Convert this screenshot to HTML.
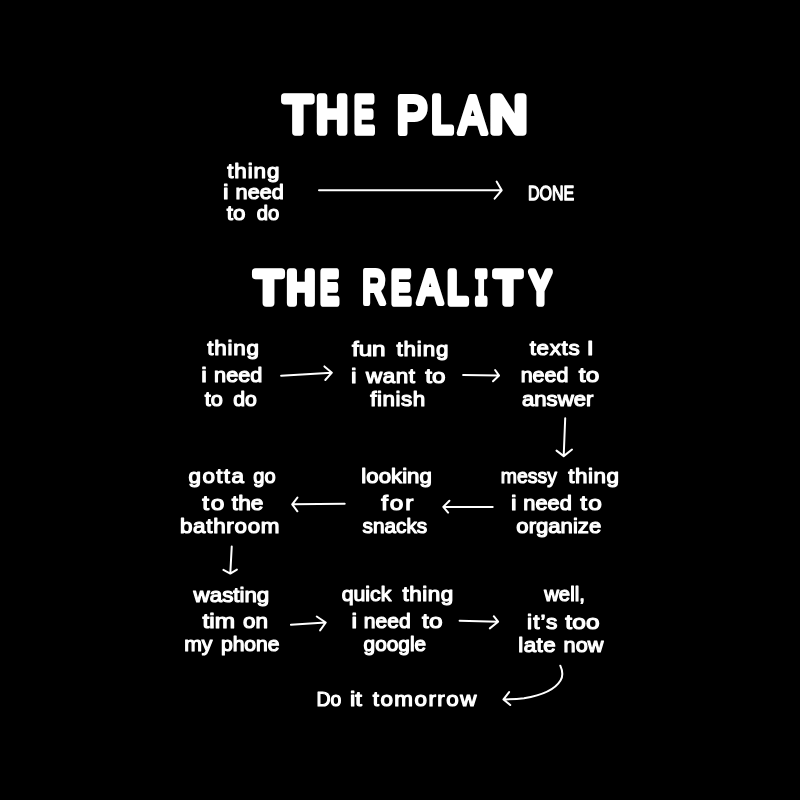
<!DOCTYPE html>
<html lang="en"><head><meta charset="utf-8"><title>The Plan vs The Reality</title>
<style>
html,body{margin:0;padding:0;background:#000;}
body{width:800px;height:800px;overflow:hidden;}
svg{display:block;will-change:transform;}
text{font-family:"Liberation Sans",sans-serif;fill:#fff;stroke:#fff;stroke-linejoin:round;stroke-linecap:round;}
.s{font-size:20px;font-weight:400;stroke-width:1.15px;}
.d{font-size:20.6px;font-weight:400;stroke-width:1.3px;}
.t{font-weight:400;stroke-width:7.5px;}
.m{font-family:"Liberation Mono",monospace;}
.a{fill:none;stroke:#fff;stroke-width:2;stroke-linecap:round;stroke-linejoin:round;}
</style></head><body>
<svg width="800" height="800" viewBox="0 0 800 800">
<rect width="800" height="800" fill="#000"/>
<text class="t" aria-label="THE PLAN"><tspan x="283.39" y="132.45" textLength="28.74" lengthAdjust="spacingAndGlyphs" font-size="50.44">T</tspan><tspan x="316.61" y="132.45" textLength="31.16" lengthAdjust="spacingAndGlyphs" font-size="50.44">H</tspan><tspan x="354.31" y="132.45" textLength="19.81" lengthAdjust="spacingAndGlyphs" font-size="50.44">E</tspan> <tspan x="396.72" y="133.20" stroke-width="6.0" textLength="30.70" lengthAdjust="spacingAndGlyphs" font-size="52.62">P</tspan><tspan x="431.68" y="132.45" textLength="20.81" lengthAdjust="spacingAndGlyphs" font-size="50.44">L</tspan><tspan x="458.92" y="133.20" stroke-width="6.0" textLength="27.16" lengthAdjust="spacingAndGlyphs" font-size="52.62">A</tspan><tspan x="490.06" y="132.45" textLength="36.85" lengthAdjust="spacingAndGlyphs" font-size="50.44">N</tspan></text>
<text class="t" aria-label="THE REALITY"><tspan x="254.74" y="302.55" textLength="27.55" lengthAdjust="spacingAndGlyphs" font-size="44.48">T</tspan><tspan x="287.09" y="302.55" textLength="27.80" lengthAdjust="spacingAndGlyphs" font-size="44.48">H</tspan><tspan x="320.56" y="302.55" textLength="17.84" lengthAdjust="spacingAndGlyphs" font-size="44.48">E</tspan> <tspan x="362.38" y="303.30" stroke-width="6.0" textLength="23.11" lengthAdjust="spacingAndGlyphs" font-size="46.66">R</tspan><tspan x="391.40" y="302.55" textLength="19.07" lengthAdjust="spacingAndGlyphs" font-size="44.48">E</tspan><tspan x="417.93" y="303.30" stroke-width="6.0" textLength="24.14" lengthAdjust="spacingAndGlyphs" font-size="46.66">A</tspan><tspan x="447.87" y="302.55" textLength="19.55" lengthAdjust="spacingAndGlyphs" font-size="44.48">L</tspan><tspan class="m" x="474.54" y="302.55" textLength="13.44" lengthAdjust="spacingAndGlyphs" font-size="46.46">I</tspan><tspan x="494.78" y="302.55" textLength="26.47" lengthAdjust="spacingAndGlyphs" font-size="44.48">T</tspan><tspan x="530.06" y="302.55" textLength="20.88" lengthAdjust="spacingAndGlyphs" font-size="44.48">Y</tspan></text>
<text class="d" x="527.94" y="199.65" textLength="46.30" lengthAdjust="spacingAndGlyphs">DONE</text>
<text class="s" y="177.73"><tspan x="227.24" letter-spacing="0.79" textLength="53.02" lengthAdjust="spacingAndGlyphs">thing</tspan></text>
<text class="s" y="198.62"><tspan x="223.03" textLength="5.55" lengthAdjust="spacingAndGlyphs">i</tspan> <tspan x="235.64" textLength="48.18" lengthAdjust="spacingAndGlyphs">need</tspan></text>
<text class="s" y="219.62"><tspan x="226.74" textLength="18.63" lengthAdjust="spacingAndGlyphs">to</tspan> <tspan x="256.72" textLength="22.55" lengthAdjust="spacingAndGlyphs">do</tspan></text>
<text class="s" y="354.73"><tspan x="207.24" letter-spacing="0.68" textLength="52.40" lengthAdjust="spacingAndGlyphs">thing</tspan></text>
<text class="s" y="381.62"><tspan x="201.23" textLength="5.55" lengthAdjust="spacingAndGlyphs">i</tspan> <tspan x="214.14" textLength="48.18" lengthAdjust="spacingAndGlyphs">need</tspan></text>
<text class="s" y="405.93"><tspan x="204.75" textLength="18.09" lengthAdjust="spacingAndGlyphs">to</tspan> <tspan x="233.18" textLength="23.63" lengthAdjust="spacingAndGlyphs">do</tspan></text>
<text class="s" y="355.62"><tspan x="351.93" textLength="33.67" lengthAdjust="spacingAndGlyphs">fun</tspan> <tspan x="396.54" letter-spacing="0.73" textLength="52.65" lengthAdjust="spacingAndGlyphs">thing</tspan></text>
<text class="s" y="382.62"><tspan x="351.03" textLength="5.55" lengthAdjust="spacingAndGlyphs">i</tspan> <tspan x="366.11" letter-spacing="0.47" textLength="49.40" lengthAdjust="spacingAndGlyphs">want</tspan> <tspan x="425.21" textLength="20.24" lengthAdjust="spacingAndGlyphs">to</tspan></text>
<text class="s" y="406.12"><tspan x="370.26" letter-spacing="0.47" textLength="55.45" lengthAdjust="spacingAndGlyphs">finish</tspan></text>
<text class="s" y="355.23"><tspan x="529.74" letter-spacing="0.58" textLength="50.55" lengthAdjust="spacingAndGlyphs">texts</tspan> <tspan x="586.68" textLength="6.95" lengthAdjust="spacingAndGlyphs">I</tspan></text>
<text class="s" y="381.73"><tspan x="520.65" textLength="47.76" lengthAdjust="spacingAndGlyphs">need</tspan> <tspan x="578.71" letter-spacing="0.16" textLength="20.74" lengthAdjust="spacingAndGlyphs">to</tspan></text>
<text class="s" y="405.62"><tspan x="522.04" textLength="71.26" lengthAdjust="spacingAndGlyphs">answer</tspan></text>
<text class="s" y="483.03"><tspan x="500.78" textLength="56.18" lengthAdjust="spacingAndGlyphs">messy</tspan> <tspan x="568.24" letter-spacing="0.46" textLength="51.15" lengthAdjust="spacingAndGlyphs">thing</tspan></text>
<text class="s" y="509.93"><tspan x="511.03" textLength="5.55" lengthAdjust="spacingAndGlyphs">i</tspan> <tspan x="523.33" textLength="48.50" lengthAdjust="spacingAndGlyphs">need</tspan> <tspan x="580.21" letter-spacing="1.06" textLength="22.94" lengthAdjust="spacingAndGlyphs">to</tspan></text>
<text class="s" y="532.92"><tspan x="516.35" textLength="84.86" lengthAdjust="spacingAndGlyphs">organize</tspan></text>
<text class="s" y="482.62"><tspan x="361.38" textLength="70.48" lengthAdjust="spacingAndGlyphs">looking</tspan></text>
<text class="s" y="510.23"><tspan x="381.23" letter-spacing="1.49" textLength="33.91" lengthAdjust="spacingAndGlyphs">for</tspan></text>
<text class="s" y="532.62"><tspan x="362.60" textLength="64.58" lengthAdjust="spacingAndGlyphs">snacks</tspan></text>
<text class="s" y="482.93"><tspan x="188.63" letter-spacing="1.22" textLength="56.66" lengthAdjust="spacingAndGlyphs">gotta</tspan> <tspan x="253.33" textLength="22.34" lengthAdjust="spacingAndGlyphs">go</tspan></text>
<text class="s" y="509.82"><tspan x="202.21" letter-spacing="1.55" textLength="24.14" lengthAdjust="spacingAndGlyphs">to</tspan> <tspan x="231.83" textLength="31.60" lengthAdjust="spacingAndGlyphs">the</tspan></text>
<text class="s" y="533.12"><tspan x="179.93" letter-spacing="0.63" textLength="100.28" lengthAdjust="spacingAndGlyphs">bathroom</tspan></text>
<text class="s" y="601.72"><tspan x="193.61" textLength="75.66" lengthAdjust="spacingAndGlyphs">wasting</tspan></text>
<text class="s" y="628.42"><tspan x="202.51" textLength="32.53" lengthAdjust="spacingAndGlyphs">tim</tspan> <tspan x="242.93" textLength="24.95" lengthAdjust="spacingAndGlyphs">on</tspan></text>
<text class="s" y="651.42"><tspan x="184.17" textLength="28.30" lengthAdjust="spacingAndGlyphs">my</tspan> <tspan x="220.92" textLength="58.65" lengthAdjust="spacingAndGlyphs">phone</tspan></text>
<text class="s" y="601.02"><tspan x="341.68" textLength="49.71" lengthAdjust="spacingAndGlyphs">quick</tspan> <tspan x="402.44" letter-spacing="0.50" textLength="51.40" lengthAdjust="spacingAndGlyphs">thing</tspan></text>
<text class="s" y="628.12"><tspan x="351.43" textLength="5.55" lengthAdjust="spacingAndGlyphs">i</tspan> <tspan x="363.87" textLength="46.91" lengthAdjust="spacingAndGlyphs">need</tspan> <tspan x="421.91" letter-spacing="0.32" textLength="21.14" lengthAdjust="spacingAndGlyphs">to</tspan></text>
<text class="s" y="650.62"><tspan x="363.60" textLength="62.55" lengthAdjust="spacingAndGlyphs">google</tspan></text>
<text class="s" y="601.42"><tspan x="544.20" textLength="40.65" lengthAdjust="spacingAndGlyphs">well,</tspan></text>
<text class="s" y="628.62"><tspan x="527.08" letter-spacing="0.90" textLength="31.42" lengthAdjust="spacingAndGlyphs">it’s</tspan> <tspan x="565.31" letter-spacing="0.19" textLength="34.63" lengthAdjust="spacingAndGlyphs">too</tspan></text>
<text class="s" y="651.72"><tspan x="518.27" letter-spacing="0.40" textLength="37.90" lengthAdjust="spacingAndGlyphs">late</tspan> <tspan x="563.64" textLength="39.74" lengthAdjust="spacingAndGlyphs">now</tspan></text>
<text class="s" y="706.12"><tspan x="316.38" textLength="24.86" lengthAdjust="spacingAndGlyphs">Do</tspan> <tspan x="350.08" textLength="11.92" lengthAdjust="spacingAndGlyphs">it</tspan> <tspan x="372.74" letter-spacing="1.31" textLength="105.10" lengthAdjust="spacingAndGlyphs">tomorrow</tspan></text>
<path class="a" d="M319 190.25 H501 M496.6 181.5 L501.7 190.25 L494.6 198.7"/>
<path class="a" d="M281.1 375.8 L331.5 372.8 M324.4 366.4 L331.9 372.7 L325.3 380"/>
<path class="a" d="M463.1 374.9 L498.7 375.6 M495.1 370 L499.1 375.6 L493 381.3"/>
<path class="a" d="M565.2 418.3 L563.7 455.8 M556.5 450.6 L563.7 456.1 L572 449.5"/>
<path class="a" d="M492.7 506.9 H443.8 M449.4 500.75 L443.3 506.9 L448.1 512.6"/>
<path class="a" d="M344.7 503.7 L292.7 504.3 M297.4 497.6 L292.2 504.3 L297.4 511.3"/>
<path class="a" d="M231.75 546.4 L230.3 573.3 M223.4 569.9 L230.3 573.6 L236.9 569.6"/>
<path class="a" d="M290.9 624.75 L325.4 622.5 M316.75 616.5 L325.75 622.5 L320.1 630.4"/>
<path class="a" d="M459.6 620.8 L497.8 621.7 M493.75 616.2 L498.1 621.7 L489.8 628.4"/>
<path class="a" d="M560.3 665.7 C562.5 670.5 563.2 676 560.5 680.5 C555 689.5 541 695.5 524 698.2 C517 699.1 510 699.3 503.8 699.4 M509.1 692.1 L503.5 699.4 L510.25 705"/>
</svg></body></html>
